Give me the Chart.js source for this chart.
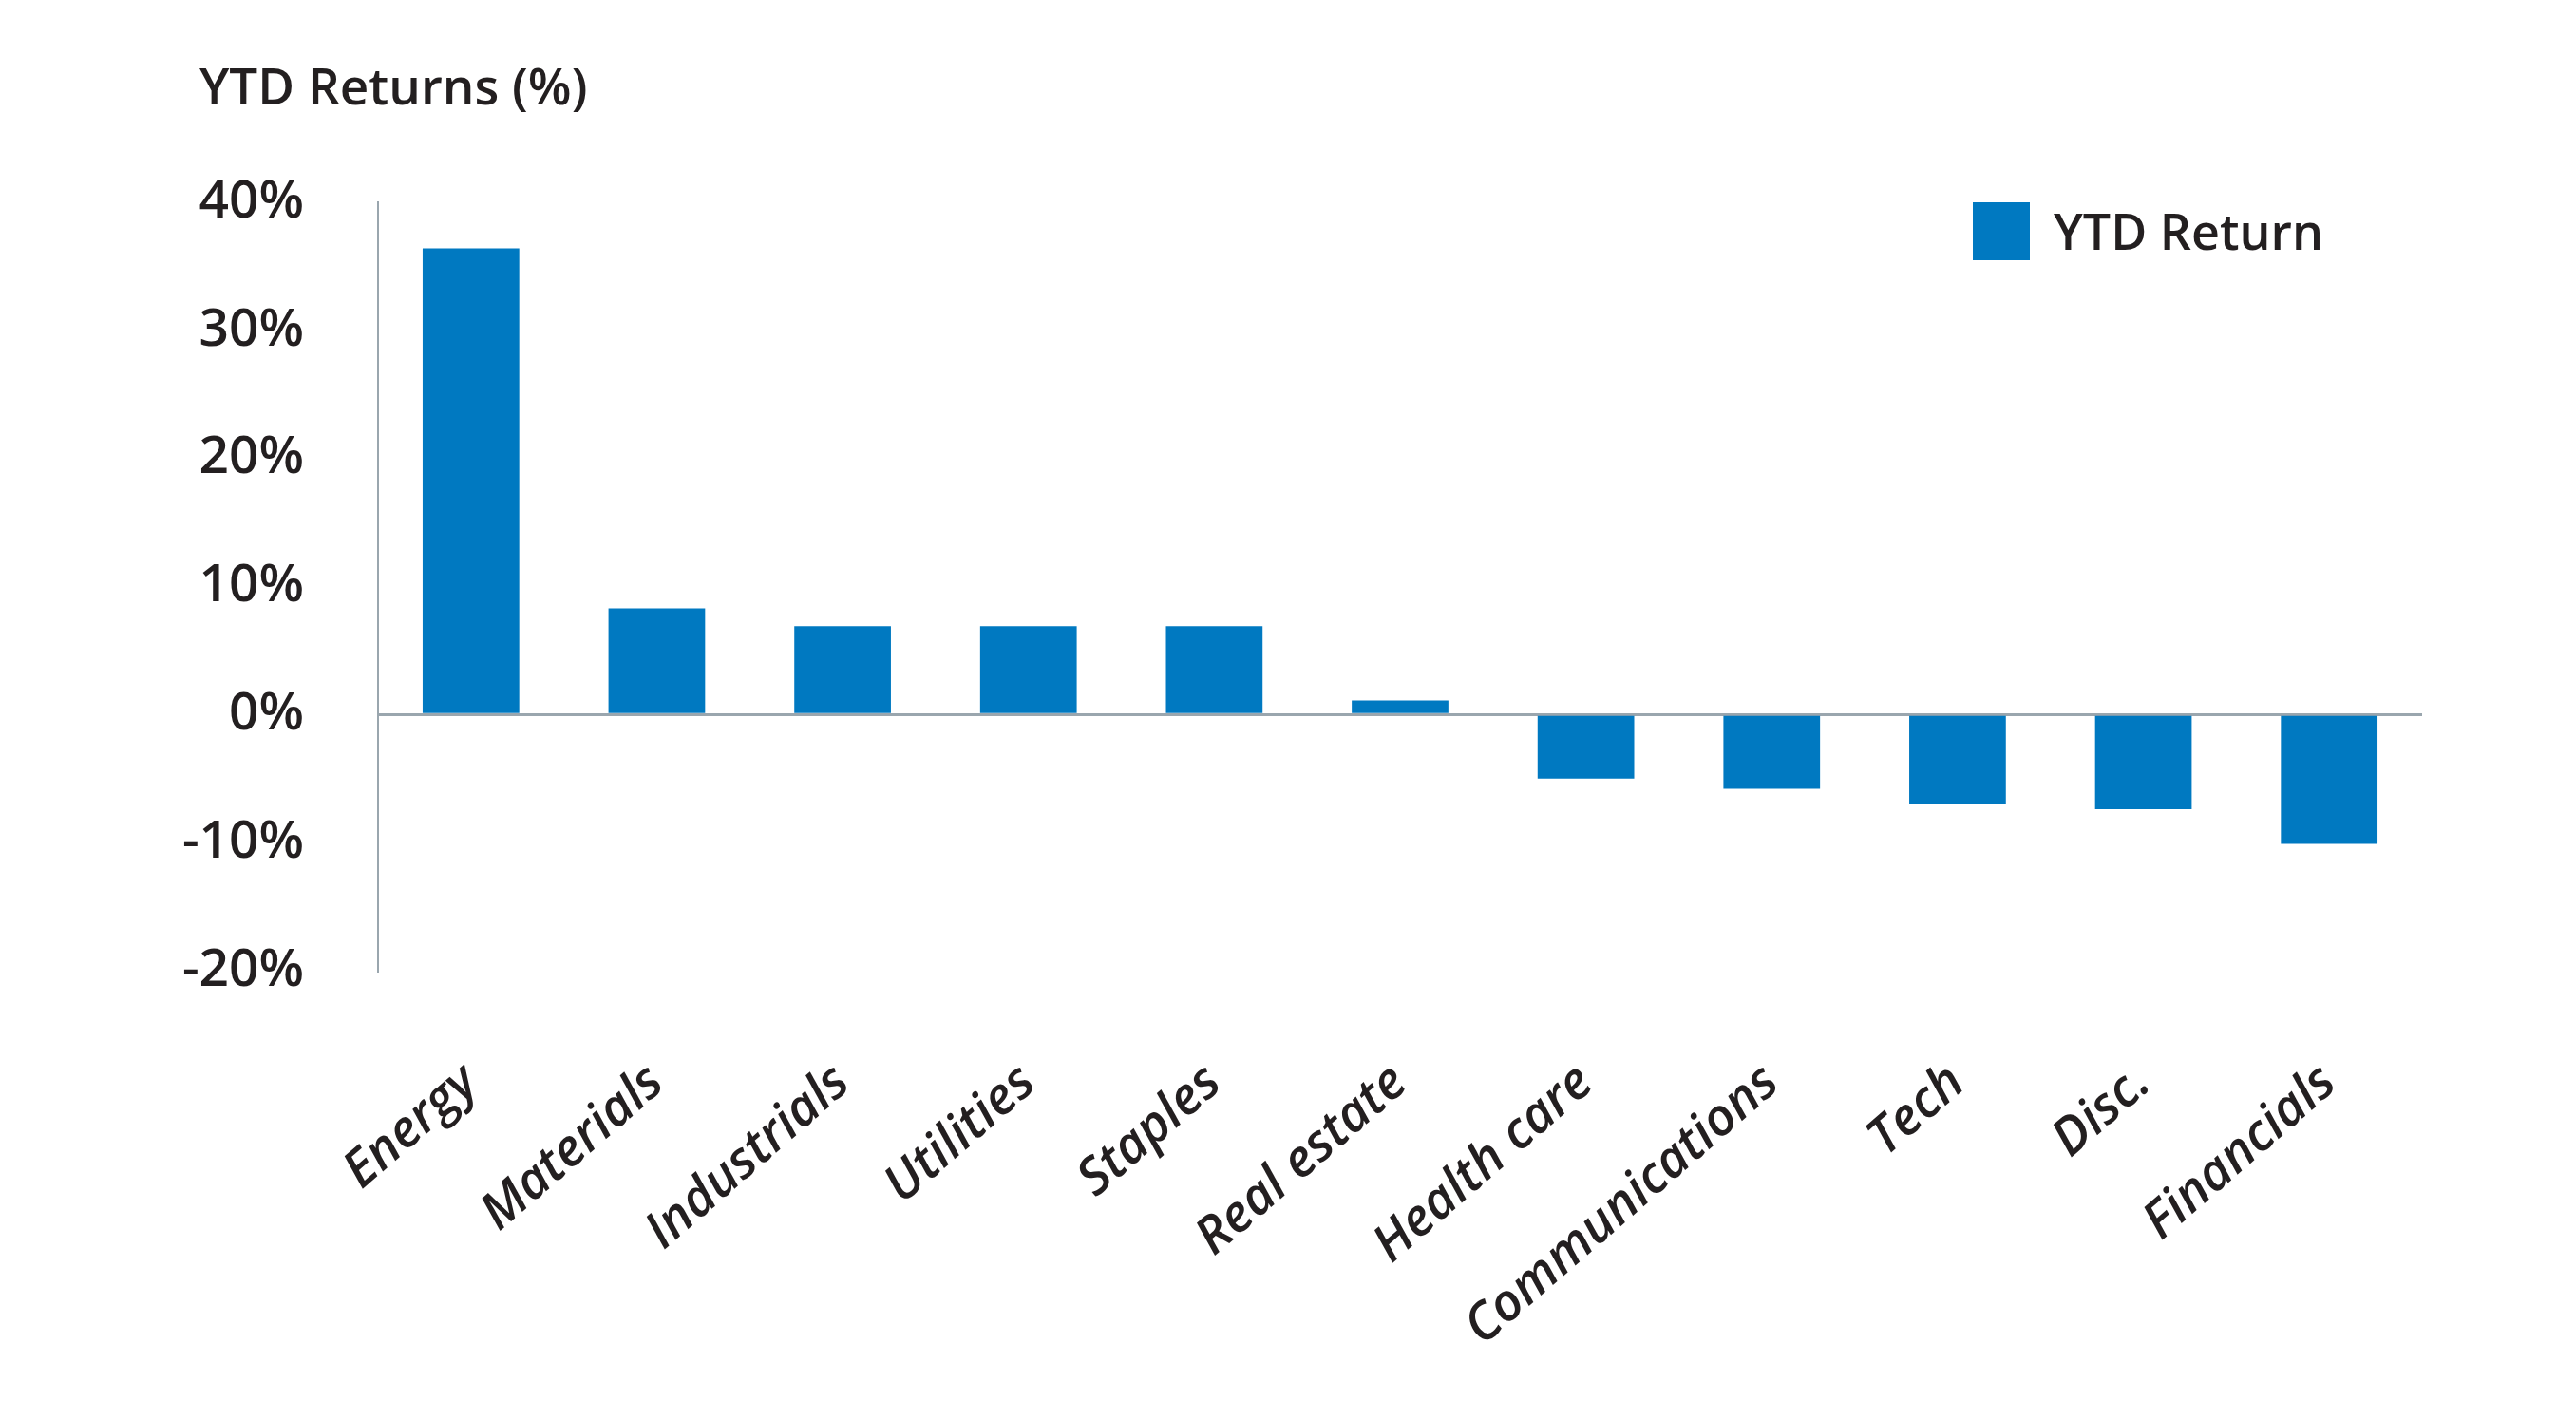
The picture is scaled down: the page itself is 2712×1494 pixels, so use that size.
<!DOCTYPE html>
<html>
<head>
<meta charset="utf-8">
<script src="https://cdn.jsdelivr.net/npm/chart.js@4.4.1/dist/chart.umd.min.js"></script>
<style>
  html, body { margin: 0; padding: 0; background: #fff; }
  #wrap { width: 2712px; height: 1494px; }
</style>
</head>
<body>
<div id="wrap"><canvas id="ytd-chart"></canvas></div>
<script>
// Data
var sectors = ['Energy', 'Materials', 'Industrials', 'Utilities', 'Staples', 'Real estate',
               'Health care', 'Communications', 'Tech', 'Disc.', 'Financials'];
var ytdReturn = [36.4, 8.3, 6.9, 6.9, 6.9, 1.1, -5.0, -5.8, -7.0, -7.4, -10.1];
var yTicks = [-20, -10, 0, 10, 20, 30, 40];
var yTitle = 'YTD Returns (%)';

var FONT = '"Open Sans", "Noto Sans", sans-serif';
var TEXT = '#231f20';
var AXIS = '#9aa6ae';
var BLUE = '#0079c1';

// axis title top left + legend box top right, both placed from the chart area
const extras = {
    id: 'extras',
    afterDraw(chart) {
        var ds = chart.data.datasets[0];
        var a = chart.chartArea;
        var ctx = chart.ctx;
        ctx.save();
        ctx.textBaseline = 'alphabetic';
        ctx.fillStyle = TEXT;
        ctx.font = '600 53px ' + FONT;
        ctx.fillText(yTitle, a.left - 188, 110);

        ctx.fillStyle = ds.backgroundColor;
        ctx.fillRect(a.right - 473, a.top, 60, 61);
        ctx.fillStyle = TEXT;
        ctx.font = '600 52px ' + FONT;
        ctx.fillText(ds.label, a.right - 388, a.top + 50);
        ctx.restore();
    }
};

var ctx = document.getElementById('ytd-chart').getContext('2d');
new Chart(ctx, {
    type: 'bar',
    data: {
        labels: sectors,
        datasets: [{
            label: 'YTD Return',
            data: ytdReturn,
            backgroundColor: BLUE,
            borderWidth: 0,
            barPercentage: 0.52,
            categoryPercentage: 1.0
        }]
    },
    options: {
        responsive: true,
        maintainAspectRatio: false,
        animation: false,
        layout: { padding: { left: 180, right: 162, top: 213, bottom: 0 } },
        plugins: {
            legend: { display: false },
            tooltip: { enabled: false }
        },
        scales: {
            x: {
                grid: { display: false },
                border: { display: false },
                ticks: {
                    autoSkip: false,
                    minRotation: 41,
                    maxRotation: 41,
                    padding: 78,
                    color: TEXT,
                    font: { family: FONT, size: 54, style: 'italic', weight: '600' }
                },
                afterFit: function(scale) { scale.height = 472; }
            },
            y: {
                min: yTicks[0],
                max: yTicks[yTicks.length - 1],
                ticks: {
                    stepSize: 10,
                    padding: 78,
                    color: TEXT,
                    font: { family: FONT, size: 55, weight: '600' },
                    callback: function(v) { return v + '%'; }
                },
                grid: {
                    drawTicks: false,
                    color: function(c) { return c.tick && c.tick.value === 0 ? AXIS : 'rgba(0,0,0,0)'; },
                    lineWidth: 3
                },
                border: { display: true, color: AXIS, width: 2 },
                afterFit: function(scale) { scale.width = 218; }
            }
        }
    },
    plugins: [extras]
});
</script>
</body>
</html>
